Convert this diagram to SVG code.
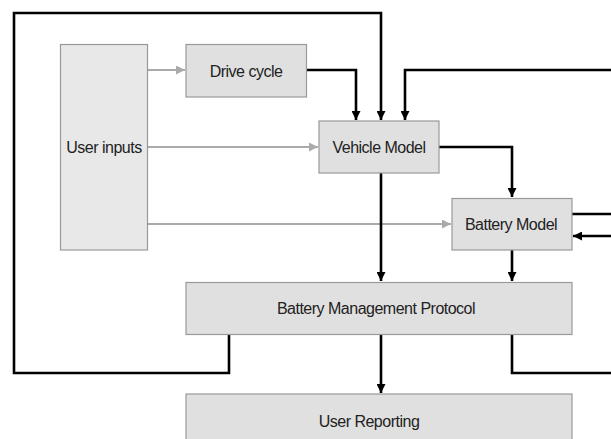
<svg xmlns="http://www.w3.org/2000/svg" width="611" height="439" viewBox="0 0 611 439">
<style>
.box{fill:#e0e0e0;stroke:#999;stroke-width:1.2}
.light{fill:#e8e8e8}
.lbl{font-family:"Liberation Sans",Arial,sans-serif;font-size:16px;letter-spacing:-0.5px;fill:#222;text-anchor:middle;dominant-baseline:central}
.blk{fill:none;stroke:#000;stroke-width:2.6;stroke-linejoin:miter}
.gry{fill:none;stroke:#aaa;stroke-width:2}
</style>
<defs>
<marker id="ab" markerUnits="userSpaceOnUse" viewBox="0 0 10 10" refX="10" refY="5" markerWidth="10" markerHeight="9" orient="auto">
<path d="M0,0 L10,5 L0,10 z" fill="#000"/>
</marker>
<marker id="ag" markerUnits="userSpaceOnUse" viewBox="0 0 10 10" refX="10" refY="5" markerWidth="11" markerHeight="9" orient="auto">
<path d="M0,0 L10,5 L0,10 z" fill="#aaa"/>
</marker>
</defs>
<rect width="611" height="439" fill="#fff"/>
<g id="connectors">
<path class="gry" d="M148,70 H185" marker-end="url(#ag)"/>
<path class="gry" d="M148,147 H318" marker-end="url(#ag)"/>
<path class="gry" d="M148,224 H451" marker-end="url(#ag)"/>
<path class="blk" d="M306,70 H356 V120" marker-end="url(#ab)"/>
<path class="blk" d="M229,334 V373 H14 V13 H381 V120" marker-end="url(#ab)"/>
<path class="blk" d="M611,70 H405 V120" marker-end="url(#ab)"/>
<path class="blk" d="M439,147 H512 V197" marker-end="url(#ab)"/>
<path class="blk" d="M381,173 V281" marker-end="url(#ab)"/>
<path class="blk" d="M512,250 V281" marker-end="url(#ab)"/>
<path class="blk" d="M381,334 V393" marker-end="url(#ab)"/>
<path class="blk" d="M572,214 H611"/>
<path class="blk" d="M611,236 H573" marker-end="url(#ab)"/>
<path class="blk" d="M512,334 V373 H611"/>
</g>
<g id="user-inputs">
<rect class="box light" x="60.5" y="44.5" width="87" height="205.5"/>
<text class="lbl" x="104" y="147">User inputs</text>
</g>
<g id="drive-cycle">
<rect class="box" x="186" y="44.5" width="120.5" height="52.5"/>
<text class="lbl" x="246" y="71">Drive cycle</text>
</g>
<g id="vehicle-model">
<rect class="box" x="319" y="121" width="120" height="52"/>
<text class="lbl" x="379" y="147">Vehicle Model</text>
</g>
<g id="battery-model">
<rect class="box" x="452" y="198.5" width="120" height="51.5"/>
<text class="lbl" x="511" y="224">Battery Model</text>
</g>
<g id="bmp">
<rect class="box" x="186" y="282.5" width="386" height="52"/>
<text class="lbl" x="376" y="308">Battery Management Protocol</text>
</g>
<g id="user-reporting">
<rect class="box" x="186" y="394" width="386" height="60"/>
<text class="lbl" x="369" y="421">User Reporting</text>
</g>
</svg>
